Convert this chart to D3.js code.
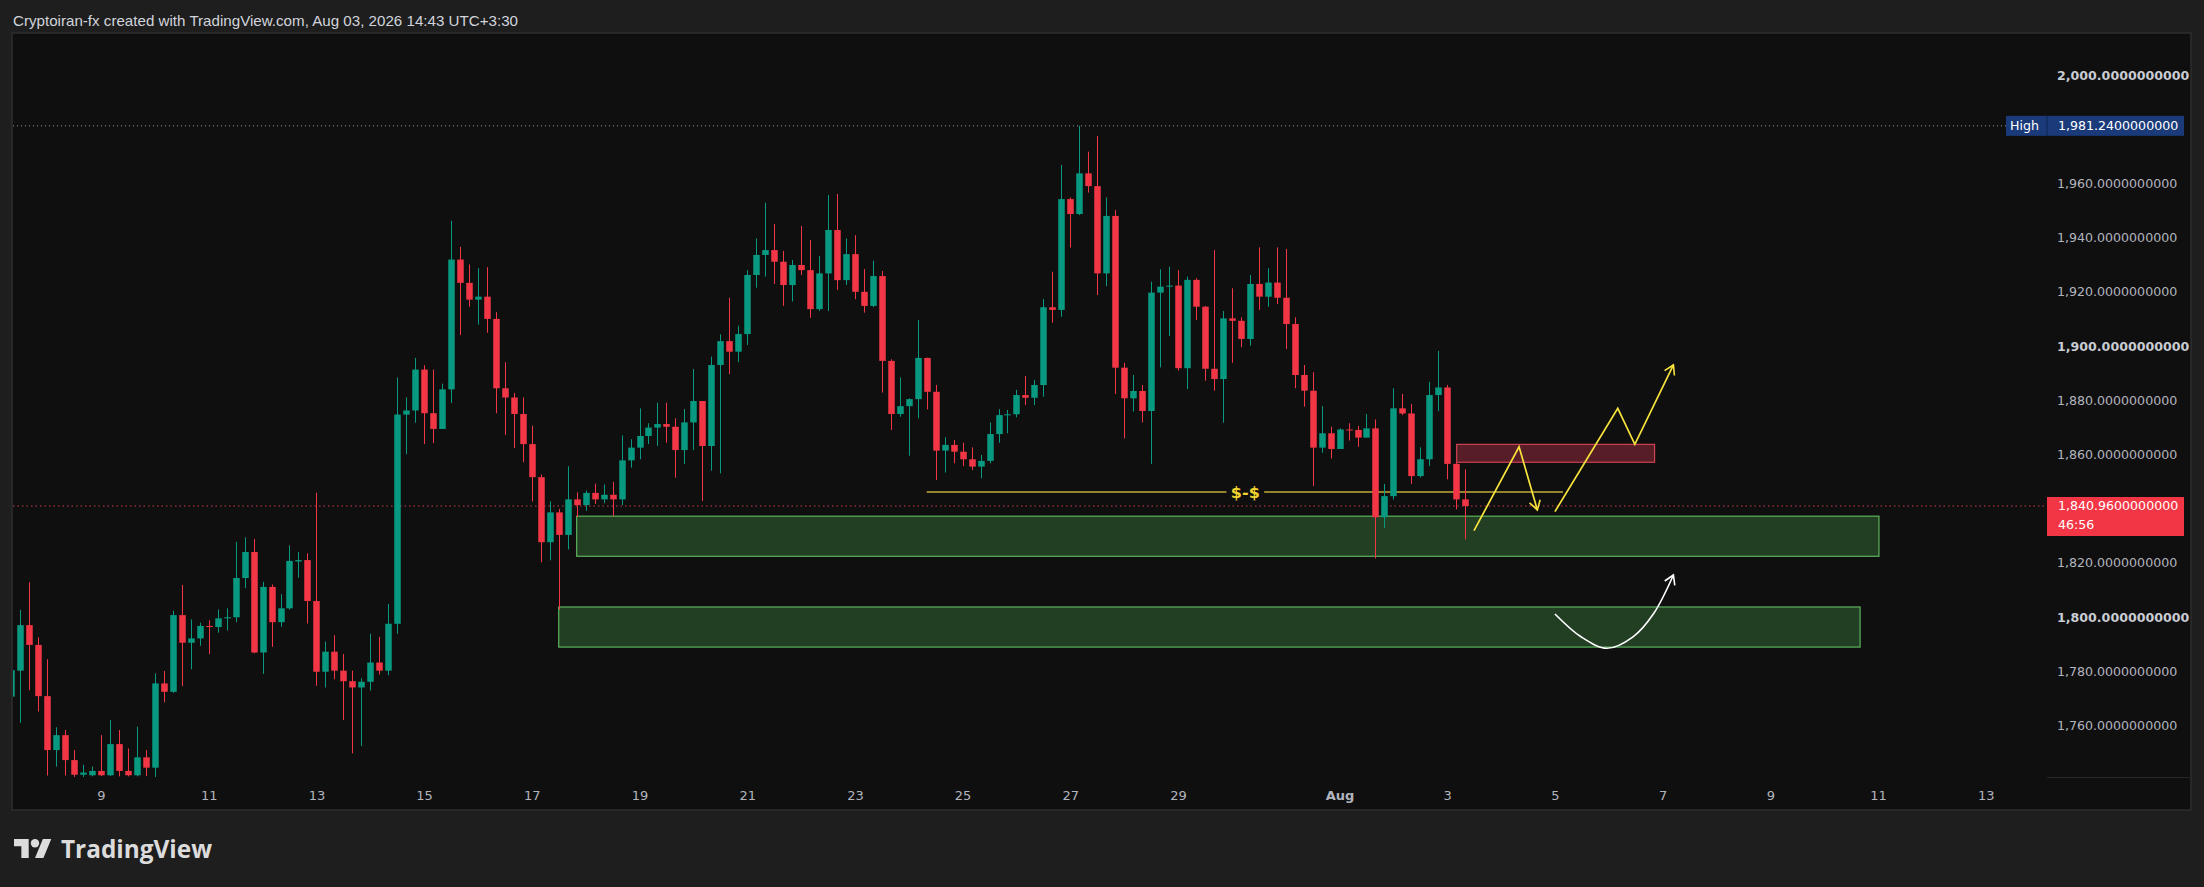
<!DOCTYPE html>
<html lang="en">
<head>
<meta charset="UTF-8">
<title>ETH 4H - TradingView snapshot</title>
<script src="https://d3js.org/d3.v7.min.js"></script>
<style>
  html, body { margin: 0; padding: 0; background: #1e1e1e; }
  svg { display: block; }
  .price-axis text { font-family: "DejaVu Sans", sans-serif; font-size: 12.6px; fill: #b2b5be; }
  .time-axis text { font-family: "DejaVu Sans", sans-serif; font-size: 13px; fill: #b2b5be; }
</style>
</head>
<body>
<svg width="2204" height="887"></svg>
<script>
// 4H candles, Jul 7 11:30 -> Aug 3 11:30 (UTC+3:30)
const opens = [
  1770.6, 1780.2, 1797.0, 1789.7, 1770.8, 1750.9, 1756.4, 1747.2, 1741.8, 1741.6,
  1743.2, 1741.6, 1753.1, 1743.2, 1741.6, 1748.2, 1744.4, 1775.5, 1772.4, 1800.7,
  1790.5, 1792.1, 1796.7, 1796.3, 1799.5, 1799.9, 1814.4, 1824.0, 1786.9, 1811.1,
  1798.1, 1803.2, 1820.5, 1821.0, 1805.9, 1779.8, 1787.2, 1780.2, 1776.3, 1774.0,
  1776.1, 1783.2, 1780.2, 1797.5, 1874.7, 1876.2, 1891.3, 1875.2, 1869.4, 1884.0,
  1931.9, 1923.3, 1917.1, 1918.2, 1910.0, 1884.4, 1881.0, 1874.9, 1863.8, 1851.6,
  1827.6, 1838.6, 1830.3, 1843.4, 1841.3, 1845.8, 1843.4, 1845.1, 1843.4, 1857.8,
  1862.5, 1866.8, 1869.9, 1871.2, 1870.2, 1861.6, 1871.8, 1879.7, 1863.1, 1893.0,
  1901.8, 1897.9, 1904.4, 1926.2, 1933.6, 1935.4, 1931.1, 1922.5, 1929.9, 1928.0,
  1913.6, 1926.8, 1942.8, 1924.3, 1933.9, 1920.0, 1914.8, 1925.8, 1894.5, 1874.9,
  1877.8, 1880.4, 1895.6, 1883.1, 1861.4, 1863.5, 1861.0, 1858.2, 1855.5, 1857.6,
  1867.5, 1874.5, 1874.8, 1881.9, 1880.9, 1885.6, 1914.3, 1913.3, 1954.2, 1948.7,
  1963.7, 1959.0, 1926.8, 1948.0, 1892.0, 1880.7, 1883.4, 1876.0, 1919.7, 1921.9,
  1922.3, 1891.8, 1924.4, 1914.5, 1891.6, 1887.8, 1910.2, 1909.3, 1902.6, 1922.9,
  1918.2, 1923.4, 1917.8, 1908.1, 1889.3, 1883.5, 1862.5, 1867.8, 1862.0, 1869.2,
  1869.0, 1866.2, 1869.6, 1836.8, 1844.6, 1877.0, 1875.1, 1852.0, 1858.2, 1881.9,
  1884.7, 1856.5, 1843.4
];
const highs = [
  1781.0, 1802.6, 1812.8, 1792.5, 1784.4, 1759.3, 1758.3, 1750.9, 1745.5, 1744.8,
  1756.4, 1762.0, 1758.3, 1751.5, 1759.5, 1750.9, 1779.2, 1780.1, 1802.3, 1811.8,
  1799.1, 1797.9, 1798.8, 1802.8, 1803.2, 1827.7, 1829.4, 1828.8, 1813.0, 1812.0,
  1808.4, 1826.4, 1824.0, 1823.5, 1845.9, 1790.9, 1793.3, 1786.3, 1780.2, 1777.4,
  1793.8, 1792.7, 1804.8, 1888.4, 1881.0, 1895.6, 1892.9, 1891.3, 1886.1, 1946.2,
  1936.6, 1930.1, 1928.7, 1929.1, 1912.5, 1894.0, 1882.7, 1881.0, 1870.6, 1852.6,
  1842.6, 1839.9, 1855.6, 1846.0, 1846.7, 1849.2, 1848.9, 1849.9, 1867.0, 1865.6,
  1877.0, 1871.5, 1879.1, 1879.1, 1873.3, 1876.7, 1891.5, 1879.7, 1896.1, 1904.3,
  1917.8, 1907.5, 1928.0, 1939.7, 1952.9, 1945.0, 1935.1, 1931.7, 1944.3, 1939.1,
  1933.2, 1955.7, 1956.1, 1939.7, 1940.9, 1928.4, 1931.5, 1927.7, 1895.1, 1888.4,
  1880.7, 1909.6, 1895.7, 1885.6, 1866.3, 1865.3, 1864.3, 1862.6, 1859.8, 1871.8,
  1876.7, 1876.4, 1883.8, 1888.9, 1887.4, 1917.3, 1927.4, 1966.8, 1954.8, 1981.24,
  1971.7, 1977.5, 1954.8, 1950.2, 1893.8, 1889.3, 1885.6, 1923.7, 1928.3, 1929.3,
  1928.0, 1925.6, 1925.0, 1914.8, 1935.4, 1912.9, 1921.3, 1910.6, 1926.2, 1936.4,
  1928.7, 1936.4, 1935.8, 1910.6, 1893.0, 1890.3, 1877.8, 1870.2, 1869.6, 1871.5,
  1870.5, 1874.9, 1872.9, 1849.1, 1884.4, 1882.3, 1878.6, 1862.6, 1886.8, 1898.2,
  1885.6, 1857.0, 1854.5
];
const lows = [
  1769.0, 1761.0, 1773.0, 1765.1, 1741.5, 1744.8, 1741.5, 1741.0, 1741.0, 1741.2,
  1741.3, 1741.3, 1741.2, 1741.2, 1741.2, 1741.3, 1741.0, 1768.5, 1772.0, 1774.5,
  1780.7, 1789.4, 1786.3, 1794.2, 1795.0, 1798.1, 1810.6, 1786.6, 1779.0, 1789.0,
  1796.4, 1802.7, 1814.5, 1797.6, 1774.6, 1774.0, 1777.0, 1762.0, 1749.7, 1752.4,
  1772.9, 1778.8, 1778.5, 1793.8, 1860.1, 1871.7, 1863.8, 1864.2, 1869.4, 1879.0,
  1904.1, 1914.5, 1907.9, 1904.9, 1875.2, 1867.2, 1862.3, 1857.1, 1842.6, 1820.2,
  1820.9, 1802.7, 1824.9, 1836.9, 1839.2, 1841.7, 1842.0, 1837.2, 1841.3, 1855.1,
  1858.2, 1863.8, 1863.1, 1864.3, 1851.4, 1856.4, 1861.6, 1842.8, 1854.0, 1853.0,
  1889.6, 1894.0, 1900.4, 1921.5, 1925.6, 1922.9, 1914.8, 1916.4, 1926.2, 1910.4,
  1912.9, 1912.9, 1920.7, 1922.5, 1917.3, 1912.3, 1914.3, 1882.8, 1869.0, 1873.9,
  1859.5, 1873.3, 1876.6, 1850.5, 1853.3, 1856.7, 1855.7, 1854.2, 1851.2, 1856.7,
  1864.3, 1867.8, 1873.7, 1878.2, 1878.2, 1881.3, 1908.6, 1910.8, 1936.3, 1948.3,
  1956.6, 1918.8, 1922.1, 1882.3, 1865.9, 1875.8, 1871.8, 1856.5, 1892.1, 1903.7,
  1890.9, 1884.1, 1909.6, 1887.2, 1883.5, 1871.7, 1893.8, 1899.5, 1900.1, 1913.3,
  1914.5, 1915.5, 1898.9, 1884.4, 1877.6, 1848.3, 1860.6, 1858.5, 1862.0, 1865.1,
  1862.8, 1866.2, 1821.6, 1832.9, 1843.4, 1874.5, 1849.1, 1851.5, 1855.7, 1876.0,
  1850.8, 1839.7, 1828.6
];
const closes = [
  1780.4, 1797.0, 1789.7, 1770.8, 1750.9, 1756.4, 1747.2, 1741.8, 1742.6, 1743.2,
  1741.6, 1753.1, 1743.2, 1741.6, 1748.2, 1744.4, 1775.5, 1772.4, 1800.7, 1790.5,
  1792.1, 1796.7, 1796.3, 1799.5, 1799.9, 1814.4, 1824.0, 1786.9, 1811.1, 1798.1,
  1803.2, 1820.7, 1821.0, 1805.9, 1779.8, 1787.2, 1780.2, 1776.3, 1774.0, 1776.1,
  1783.2, 1780.2, 1797.5, 1874.7, 1876.2, 1891.3, 1875.2, 1869.4, 1884.0, 1931.9,
  1923.3, 1917.1, 1918.2, 1910.0, 1884.4, 1881.0, 1874.9, 1863.8, 1851.6, 1827.6,
  1838.6, 1830.3, 1843.4, 1841.3, 1845.8, 1843.4, 1845.1, 1843.4, 1857.8, 1862.5,
  1866.8, 1869.9, 1871.2, 1870.2, 1861.6, 1871.8, 1879.7, 1863.1, 1893.0, 1901.8,
  1897.9, 1904.4, 1926.2, 1933.6, 1935.4, 1931.1, 1922.5, 1929.9, 1928.0, 1913.6,
  1926.8, 1942.8, 1924.3, 1933.9, 1920.0, 1914.8, 1925.8, 1894.5, 1874.9, 1877.8,
  1880.4, 1895.6, 1883.1, 1861.4, 1863.5, 1861.0, 1858.2, 1855.5, 1857.6, 1867.5,
  1874.5, 1874.8, 1881.9, 1880.9, 1885.6, 1914.3, 1913.3, 1954.2, 1948.7, 1963.7,
  1959.0, 1926.8, 1948.0, 1892.0, 1880.7, 1883.4, 1876.0, 1919.7, 1921.9, 1922.3,
  1891.8, 1924.4, 1914.5, 1891.6, 1887.8, 1910.2, 1909.3, 1902.6, 1922.9, 1918.2,
  1923.4, 1917.8, 1908.1, 1889.3, 1883.5, 1862.5, 1867.8, 1862.0, 1869.2, 1869.0,
  1866.2, 1869.6, 1836.8, 1844.6, 1877.0, 1875.1, 1852.0, 1858.2, 1881.9, 1884.7,
  1856.5, 1843.4, 1840.96
];

// axes
const priceTicks = [1760, 1780, 1800, 1820, 1840, 1860, 1880, 1900, 1920, 1940, 1960, 1980, 2000];
const tickBars   = [10, 22, 34, 46, 58, 70, 82, 94, 106, 118, 130, 148, 160, 172, 184, 196, 208, 220];
const tickLabels = ["9", "11", "13", "15", "17", "19", "21", "23", "25", "27", "29", "Aug", "3", "5", "7", "9", "11", "13"];

const highPrice = 1981.24;
const lastPrice = 1840.96;
const countdown = "46:56";

// drawings (bar index, price)
const demandZones = [
  {from: 63, to: 208.1, top: 1837.2, bottom: 1822.4},
  {from: 61, to: 206.0, top: 1803.7, bottom: 1788.9}
];
const supplyZone = {from: 161.05, to: 183.1, top: 1863.7, bottom: 1857.1};
const liquidityLine = {from: 102, to: 172.9, price: 1846.1, gapFrom: 135.4, gapTo: 139.6, label: "$-$", labelBar: 137.5};
const pathA = [[162.98, 1831.85], [168.0, 1862.8], [170.04, 1839.5]];
const pathB = [[172.0, 1838.9], [179.0, 1877.0], [180.9, 1863.7], [185.2, 1893.0]];
const curveC = [[172.0, 1801.1], [174.9, 1792.7], [177.8, 1788.45], [180.7, 1792.7], [183.0, 1801.3], [185.2, 1815.5]];

const W = 2204, H = 887;
const panel = {x: 12, y: 33, w: 2179, h: 777};
const plotRight = 2047, plotBottom = 777;

const up = "#089981", down = "#f23645";

const svg = d3.select("svg");

svg.append("rect").attr("width", W).attr("height", H).attr("fill", "#1e1e1e");
svg.append("rect")
  .attr("x", panel.x).attr("y", panel.y).attr("width", panel.w).attr("height", panel.h)
  .attr("fill", "#0f0f0f").attr("stroke", "#2e2e2e").attr("stroke-width", 1.5);

// title
svg.append("text")
  .attr("x", 13).attr("y", 25.5)
  .attr("textLength", 505).attr("lengthAdjust", "spacingAndGlyphs")
  .style("font-family", "'Liberation Sans', Arial, sans-serif")
  .style("font-size", "14.5px").attr("fill", "#d1d4dc")
  .text("Cryptoiran-fx created with TradingView.com, Aug 03, 2026 14:43 UTC+3:30");

// scales
const x = d3.scaleLinear().domain([0, 162]).range([11.25, 1465.2]);
const y = d3.scaleLinear().domain([1760, 2000]).range([725.4, 75]);

svg.append("defs").append("clipPath").attr("id", "plot-clip")
  .append("rect").attr("x", 13).attr("y", 34).attr("width", plotRight - 13).attr("height", plotBottom - 34);

const defs = svg.select("defs");
[["arrow-y", "#f7e33c"], ["arrow-w", "#ffffff"]].forEach(([id, col]) => {
  defs.append("marker").attr("id", id)
    .attr("viewBox", "-11 -7 13 14").attr("refX", 0).attr("refY", 0)
    .attr("markerWidth", 13).attr("markerHeight", 14)
    .attr("markerUnits", "userSpaceOnUse").attr("orient", "auto")
    .append("path").attr("d", "M-9,-5.5L0,0L-9,5.5")
    .attr("fill", "none").attr("stroke", col).attr("stroke-width", 1.6);
});

const plot = svg.append("g").attr("clip-path", "url(#plot-clip)");

// demand zones
plot.selectAll(".zone").data(demandZones).join("rect")
  .attr("class", "zone")
  .attr("x", d => x(d.from)).attr("y", d => y(d.top))
  .attr("width", d => x(d.to) - x(d.from)).attr("height", d => y(d.bottom) - y(d.top))
  .attr("fill", "#223f24").attr("stroke", "#5cb35c").attr("stroke-width", 1.2);

// supply zone
plot.append("rect")
  .attr("x", x(supplyZone.from)).attr("y", y(supplyZone.top))
  .attr("width", x(supplyZone.to) - x(supplyZone.from))
  .attr("height", y(supplyZone.bottom) - y(supplyZone.top))
  .attr("fill", "#581e27").attr("stroke", "#cf4252").attr("stroke-width", 1.2);

// high / last price lines
plot.append("line")
  .attr("x1", 13).attr("x2", 2006).attr("y1", y(highPrice)).attr("y2", y(highPrice))
  .attr("stroke", "#8c8f96").attr("stroke-width", 1).attr("stroke-dasharray", "1,3");
plot.append("line")
  .attr("x1", 13).attr("x2", plotRight).attr("y1", y(lastPrice)).attr("y2", y(lastPrice))
  .attr("stroke", "#c93a48").attr("stroke-width", 1).attr("stroke-dasharray", "1.5,3");

// liquidity line with label
const ly = y(liquidityLine.price);
[[liquidityLine.from, liquidityLine.gapFrom], [liquidityLine.gapTo, liquidityLine.to]].forEach(([a, b]) => {
  plot.append("line")
    .attr("x1", x(a)).attr("x2", x(b)).attr("y1", ly).attr("y2", ly)
    .attr("stroke", "#c2ad3c").attr("stroke-width", 1.5);
});
plot.append("text")
  .attr("x", x(liquidityLine.labelBar)).attr("y", ly)
  .attr("text-anchor", "middle").attr("dominant-baseline", "central")
  .style("font-family", "'DejaVu Sans', sans-serif").style("font-size", "16px").style("font-weight", "bold")
  .attr("fill", "#f2d42e").text(liquidityLine.label);

// candles
const idx = d3.range(opens.length);
const candle = plot.selectAll(".candle").data(idx).join("g").attr("class", "candle");
candle.append("line")
  .attr("x1", i => Math.round(x(i)) + 0.5).attr("x2", i => Math.round(x(i)) + 0.5)
  .attr("y1", i => y(highs[i])).attr("y2", i => y(lows[i]))
  .attr("stroke", i => closes[i] >= opens[i] ? up : down).attr("stroke-width", 1);
candle.append("rect")
  .attr("x", i => Math.round(x(i)) + 0.5 - 3.25).attr("width", 6.5)
  .attr("y", i => y(Math.max(opens[i], closes[i])))
  .attr("height", i => Math.max(1, Math.abs(y(opens[i]) - y(closes[i]))))
  .attr("fill", i => closes[i] >= opens[i] ? up : down);

// projected paths
const line = d3.line().x(d => x(d[0])).y(d => y(d[1]));
plot.append("path").attr("d", line(pathA))
  .attr("fill", "none").attr("stroke", "#f7e33c").attr("stroke-width", 1.7)
  .attr("marker-end", "url(#arrow-y)");
plot.append("path").attr("d", line(pathB))
  .attr("fill", "none").attr("stroke", "#f7e33c").attr("stroke-width", 1.7)
  .attr("marker-end", "url(#arrow-y)");
plot.append("path").attr("d", line.curve(d3.curveCatmullRom)(curveC))
  .attr("fill", "none").attr("stroke", "#ffffff").attr("stroke-width", 1.6)
  .attr("marker-end", "url(#arrow-w)");

// price axis
const fmt = d3.format(",.10f");
const pAxis = svg.append("g").attr("class", "price-axis")
  .attr("transform", `translate(${plotRight},0)`)
  .call(d3.axisRight(y).tickValues(priceTicks).tickSize(0).tickPadding(10).tickFormat(fmt));
pAxis.select(".domain").remove();
pAxis.selectAll("text")
  .style("font-weight", d => d % 100 === 0 ? "bold" : "normal")
  .style("fill", d => d % 100 === 0 ? "#c9ccd3" : "#b2b5be");

// time axis
const tAxis = svg.append("g").attr("class", "time-axis")
  .attr("transform", `translate(0,${plotBottom})`)
  .call(d3.axisBottom(x).tickValues(tickBars).tickSize(0).tickPadding(14).tickFormat((d, i) => tickLabels[i]));
tAxis.select(".domain").remove();
tAxis.selectAll("text").style("font-weight", (d, i) => tickLabels[i] === "Aug" ? "bold" : "normal");

svg.append("line").attr("x1", plotRight).attr("x2", 2191).attr("y1", plotBottom + 0.5).attr("y2", plotBottom + 0.5)
  .attr("stroke", "#262626");

// high label
const hy = y(highPrice);
svg.append("rect").attr("x", 2006).attr("y", hy - 10).attr("width", 178).attr("height", 20).attr("fill", "#1a3a7a");
svg.append("line").attr("x1", 2047).attr("x2", 2047).attr("y1", hy - 10).attr("y2", hy + 10).attr("stroke", "#0f2450");
svg.append("text").attr("x", 2010).attr("y", hy).attr("dominant-baseline", "central")
  .style("font-family", "'DejaVu Sans', sans-serif").style("font-size", "12.6px").attr("fill", "#ffffff").text("High");
svg.append("text").attr("x", 2058).attr("y", hy).attr("dominant-baseline", "central")
  .style("font-family", "'DejaVu Sans', sans-serif").style("font-size", "12.6px").attr("fill", "#ffffff").text(fmt(highPrice));

// last price label
const cy = y(lastPrice);
svg.append("rect").attr("x", plotRight).attr("y", cy - 9).attr("width", 137).attr("height", 39).attr("fill", down);
svg.append("text").attr("x", 2058).attr("y", cy + 4.5)
  .style("font-family", "'DejaVu Sans', sans-serif").style("font-size", "12.6px").attr("fill", "#ffffff").text(fmt(lastPrice));
svg.append("text").attr("x", 2058).attr("y", cy + 23)
  .style("font-family", "'DejaVu Sans', sans-serif").style("font-size", "12.6px").attr("fill", "#ffffff").text(countdown);

// TradingView logo
const logo = svg.append("g").attr("fill", "#dcdcdc");
logo.append("g").attr("transform", "translate(14,834.8) scale(1.05)").call(g => {
  g.append("path").attr("d", "M14 22H7V11H0V4h14v18ZM28 22h-8l7.5-18h8L28 22Z");
  g.append("circle").attr("cx", 20).attr("cy", 8).attr("r", 4);
});
logo.append("text").attr("x", 61).attr("y", 858)
  .attr("textLength", 151).attr("lengthAdjust", "spacingAndGlyphs")
  .style("font-family", "'Open Sans', 'DejaVu Sans', sans-serif").style("font-size", "25px").style("font-weight", "bold")
  .text("TradingView");
</script>
</body>
</html>
